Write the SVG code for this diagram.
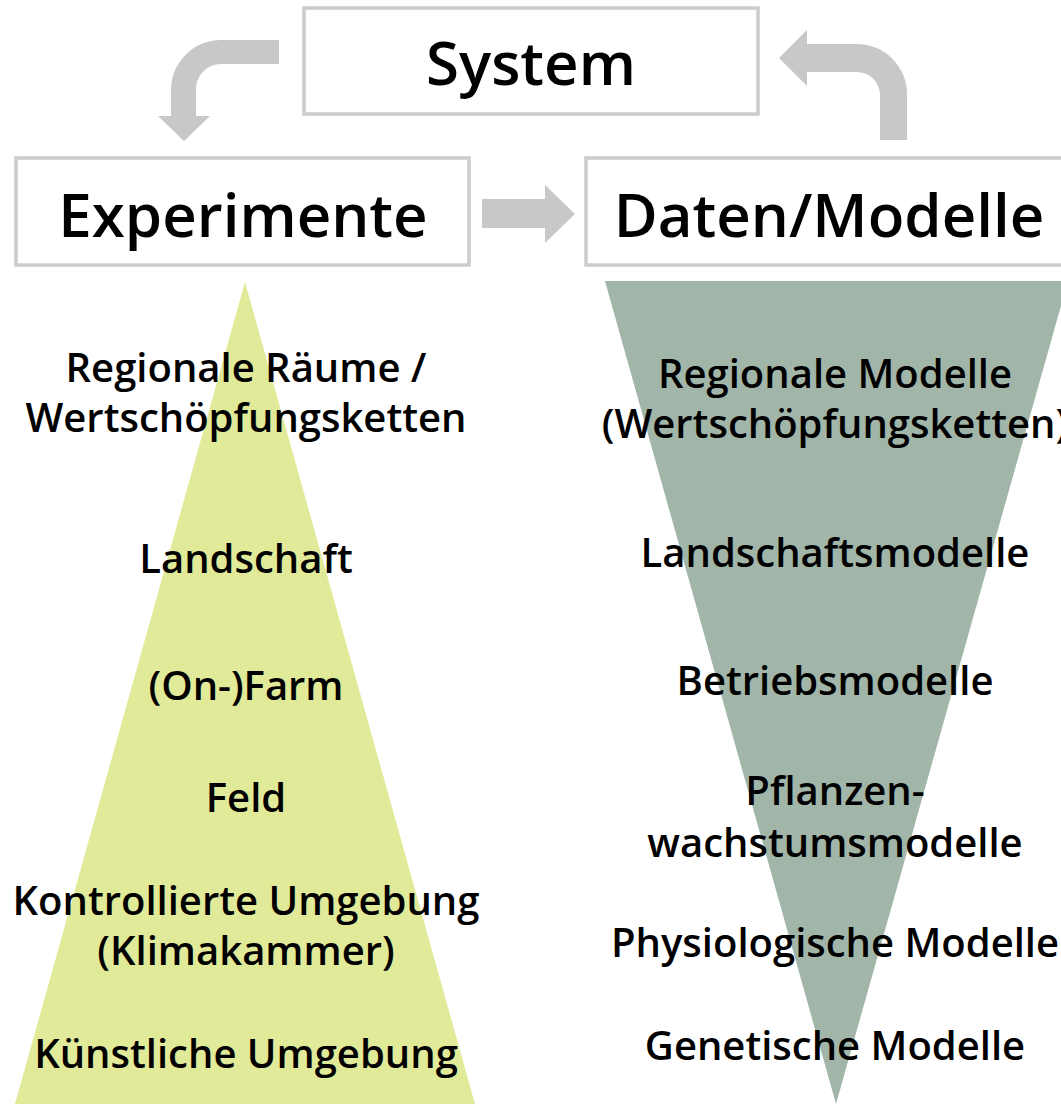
<svg xmlns="http://www.w3.org/2000/svg" width="1061" height="1104" viewBox="0 0 1061 1104">
<style>
.box{fill:#fff;stroke:#cccccc;stroke-width:3.5}
.arr{fill:#c8c8ca}
.h{font-family:"Open Sans","Liberation Sans",sans-serif;font-weight:600;font-size:60px;fill:#000;text-anchor:middle}
.t{font-family:"Open Sans","Liberation Sans",sans-serif;font-weight:600;font-size:40px;fill:#000;text-anchor:middle}
</style>
<rect width="1061" height="1104" fill="#fff"/>
<g id="pyramid-experimente">
<polygon points="245,282 15,1104 475,1104" fill="#e1ea98"/>
</g>
<g id="pyramid-modelle">
<polygon points="605,281 1068,281 836,1104" fill="#a1b5a9"/>
</g>
<g id="node-system">
<rect class="box" x="304" y="8" width="454" height="106"/>
<text class="h" x="531" y="85">System</text>
</g>
<g id="node-experimente">
<rect class="box" x="16" y="158" width="453" height="107"/>
<text class="h" x="243" y="237">Experimente</text>
</g>
<g id="node-daten">
<rect class="box" x="586" y="158" width="480" height="107"/>
<text class="h" x="829" y="237">Daten/Modelle</text>
</g>
<g id="connectors">
<path class="arr" d="M279 40 L221 40 A50 50 0 0 0 171 90 L171 116 L158 116 L184 141 L210 116 L196 116 L196 90 A25 25 0 0 1 221 64 L279 64 Z"/>
<path class="arr" d="M907 140 L907 94 A50 50 0 0 0 857 44 L807 44 L807 30 L779 58 L807 86 L807 72 L857 72 A23 23 0 0 1 880 95 L880 140 Z"/>
<path class="arr" d="M482 199 L545 199 L545 185 L575 214 L545 243 L545 228 L482 228 Z"/>
</g>
<g id="labels-experimente">
<text class="t" x="246" y="382">Regionale Räume /</text>
<text class="t" x="246" y="432">Wertschöpfungsketten</text>
<text class="t" x="246" y="573">Landschaft</text>
<text class="t" x="246" y="700">(On-)Farm</text>
<text class="t" x="246" y="812">Feld</text>
<text class="t" x="246" y="915">Kontrollierte Umgebung</text>
<text class="t" x="246" y="965">(Klimakammer)</text>
<text class="t" x="246" y="1068">Künstliche Umgebung</text>
</g>
<g id="labels-modelle">
<text class="t" x="835" y="388">Regionale Modelle</text>
<text class="t" x="835" y="438">(Wertschöpfungsketten)</text>
<text class="t" x="835" y="567">Landschaftsmodelle</text>
<text class="t" x="835" y="695">Betriebsmodelle</text>
<text class="t" x="835" y="805">Pflanzen-</text>
<text class="t" x="835" y="857">wachstumsmodelle</text>
<text class="t" x="835" y="957">Physiologische Modelle</text>
<text class="t" x="835" y="1060">Genetische Modelle</text>
</g>
</svg>
